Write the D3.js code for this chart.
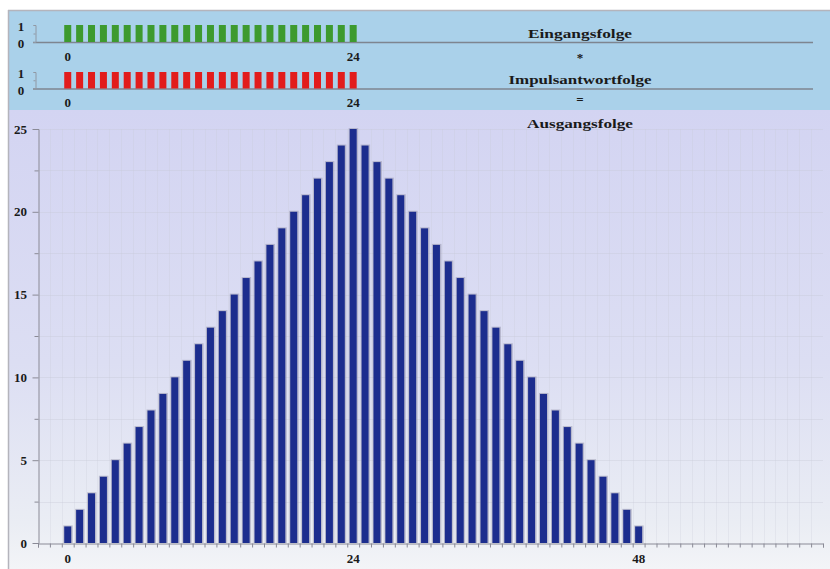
<!DOCTYPE html>
<html>
<head>
<meta charset="utf-8">
<script src="https://cdn.jsdelivr.net/npm/d3@7"></script>
<style>
  html, body { margin: 0; padding: 0; background: #ffffff; }
  svg { display: block; }
  text { font-family: "Liberation Serif", "DejaVu Serif", serif; font-weight: bold; fill: #1a1a1a; }
</style>
</head>
<body>
<svg id="chart" width="830" height="569"></svg>
<script>
// Discrete convolution: input sequence * impulse response = output sequence
const inputIndex = d3.range(0, 25);
const inputValues = [1,1,1,1,1,1,1,1,1,1,1,1,1,1,1,1,1,1,1,1,1,1,1,1,1];
const impulseIndex = d3.range(0, 25);
const impulseValues = [1,1,1,1,1,1,1,1,1,1,1,1,1,1,1,1,1,1,1,1,1,1,1,1,1];
const outputIndex = d3.range(0, 49);
const outputValues = [1,2,3,4,5,6,7,8,9,10,11,12,13,14,15,16,17,18,19,20,21,22,23,24,25,
                      24,23,22,21,20,19,18,17,16,15,14,13,12,11,10,9,8,7,6,5,4,3,2,1];
const xTickLabels = [0, 24, 48];
const yTickLabels = [0, 5, 10, 15, 20, 25];
const panelTickLabels = [0, 1];
const captions = ["Eingangsfolge", "*", "Impulsantwortfolge", "=", "Ausgangsfolge"];

const svg = d3.select("#chart");
const W = 830, H = 569;

// backgrounds
const defs = svg.append("defs");
const grad = defs.append("linearGradient").attr("id", "mainBg")
  .attr("x1", 0).attr("y1", 0).attr("x2", 0).attr("y2", 1);
grad.append("stop").attr("offset", "0%").attr("stop-color", "#d3d4f2");
grad.append("stop").attr("offset", "55%").attr("stop-color", "#dcdef3");
grad.append("stop").attr("offset", "90%").attr("stop-color", "#eaedf4");
grad.append("stop").attr("offset", "100%").attr("stop-color", "#f3f4f7");

svg.append("rect").attr("x", 0).attr("y", 0).attr("width", W).attr("height", H).attr("fill", "#ffffff");
svg.append("rect").attr("x", 8).attr("y", 110).attr("width", W - 8).attr("height", H - 110).attr("fill", "url(#mainBg)");
svg.append("rect").attr("x", 8).attr("y", 10).attr("width", W - 8).attr("height", 100).attr("fill", "#aad1ea");
// frame edges
svg.append("line").attr("x1", 8.5).attr("x2", 8.5).attr("y1", 10).attr("y2", H).attr("stroke", "#b4b4bc").attr("stroke-width", 1.5);
svg.append("line").attr("x1", 8).attr("x2", W).attr("y1", 10.5).attr("y2", 10.5).attr("stroke", "#b4b4bc").attr("stroke-width", 1.5);

// shared index scale
const x = d3.scaleLinear().domain([-2.5, 63.5]).range([38, 823]);

// ---------- main output plot ----------
const y = d3.scaleLinear().domain([0, 25]).range([543, 129]);

// faint grid
const gridY = d3.range(2.5, 25.01, 2.5);
svg.append("g").selectAll("line").data(gridY).join("line")
  .attr("x1", 38).attr("x2", 823)
  .attr("y1", d => Math.round(y(d)) + 0.5).attr("y2", d => Math.round(y(d)) + 0.5)
  .attr("stroke", "#c6c8d6").attr("stroke-width", 1).attr("opacity", 0.35);
const gridX = d3.range(-1.5, 63.5, 1);
svg.append("g").selectAll("line").data(gridX).join("line")
  .attr("x1", d => Math.round(x(d)) + 0.5).attr("x2", d => Math.round(x(d)) + 0.5)
  .attr("y1", y(25)).attr("y2", 543)
  .attr("stroke", "#c8cad6").attr("stroke-width", 1).attr("opacity", 0.25);

// bars with a soft grey halo
const barW = 7;
const bars = svg.append("g");
bars.selectAll("rect.halo").data(outputIndex).join("rect")
  .attr("class", "halo")
  .attr("x", d => x(d) - barW / 2 - 1)
  .attr("y", (d, i) => y(outputValues[i]) - 1)
  .attr("width", barW + 2.5)
  .attr("height", (d, i) => y(0) - y(outputValues[i]) + 1)
  .attr("fill", "#9c9cb4").attr("opacity", 0.6);
bars.selectAll("rect.bar").data(outputIndex).join("rect")
  .attr("class", "bar")
  .attr("x", d => x(d) - barW / 2)
  .attr("y", (d, i) => y(outputValues[i]))
  .attr("width", barW)
  .attr("height", (d, i) => y(0) - y(outputValues[i]))
  .attr("fill", "#1c2d8e");

// y axis
const yAxis = d3.axisLeft(y).tickValues(d3.range(0, 25.01, 2.5)).tickSize(5).tickFormat("");
const yg = svg.append("g").attr("transform", "translate(38.5,0)").call(yAxis);
yg.selectAll("path, line").attr("stroke", "#8a8a96");
yg.selectAll(".tick line").attr("x2", d => (d % 5 === 0 ? -6 : -4));
svg.append("g").selectAll("text").data(yTickLabels).join("text")
  .attr("x", 27).attr("y", d => y(d) + 4.5)
  .attr("text-anchor", "end").attr("font-size", 13)
  .text(d => d);

// x axis
const xAxis = d3.axisBottom(x).tickValues(d3.range(-2.5, 63.51, 1)).tickSize(4).tickFormat("");
const xg = svg.append("g").attr("transform", "translate(0,543.5)").call(xAxis);
xg.selectAll("path, line").attr("stroke", "#8a8a96");
svg.append("g").selectAll("text").data(xTickLabels).join("text")
  .attr("x", d => x(d)).attr("y", 563)
  .attr("text-anchor", "middle").attr("font-size", 13)
  .text(d => d);

// ---------- small input / impulse panels ----------
function panel(index, values, base, top, color, labelY) {
  const py = d3.scaleLinear().domain([0, 1]).range([base, top]);
  // baseline
  svg.append("line").attr("x1", 33).attr("x2", 813)
    .attr("y1", base + 0.5).attr("y2", base + 0.5)
    .attr("stroke", "#7e8590").attr("stroke-width", 1.5);
  // little vertical scale
  const ax = d3.axisLeft(py).tickValues([0, 0.5, 1]).tickSize(2).tickFormat("");
  const g = svg.append("g").attr("transform", "translate(35.5,0)").call(ax);
  g.selectAll("path, line").attr("stroke", "#9098a4");
  // bars
  svg.append("g").selectAll("rect").data(index).join("rect")
    .attr("x", d => x(d) - 3.5)
    .attr("y", (d, i) => py(values[i]))
    .attr("width", 7)
    .attr("height", (d, i) => py(0) - py(values[i]))
    .attr("fill", color);
  // value labels 1 / 0
  svg.append("g").selectAll("text").data(panelTickLabels).join("text")
    .attr("x", 21).attr("y", d => py(d) + (d === 1 ? 6 : 6))
    .attr("text-anchor", "middle").attr("font-size", 13)
    .text(d => d);
  // index labels 0 / 24
  svg.append("g").selectAll("text").data([index[0], index[index.length - 1]]).join("text")
    .attr("x", d => x(d)).attr("y", labelY)
    .attr("text-anchor", "middle").attr("font-size", 13)
    .text(d => d);
}
panel(inputIndex, inputValues, 42, 25, "#3d9a2e", 61);
panel(impulseIndex, impulseValues, 88.5, 72, "#e21c1c", 107);

// captions on the right
const capX = 580;
const capY = [38, 62, 84, 104, 128];
const capLen = [104, 0, 143, 0, 106];
svg.append("g").selectAll("text").data(captions).join("text")
  .attr("x", capX).attr("y", (d, i) => capY[i])
  .attr("text-anchor", "middle").attr("font-size", 13)
  .each(function (d, i) {
    if (capLen[i] > 0) d3.select(this).attr("textLength", capLen[i]).attr("lengthAdjust", "spacingAndGlyphs");
  })
  .text(d => d);
</script>
</body>
</html>
